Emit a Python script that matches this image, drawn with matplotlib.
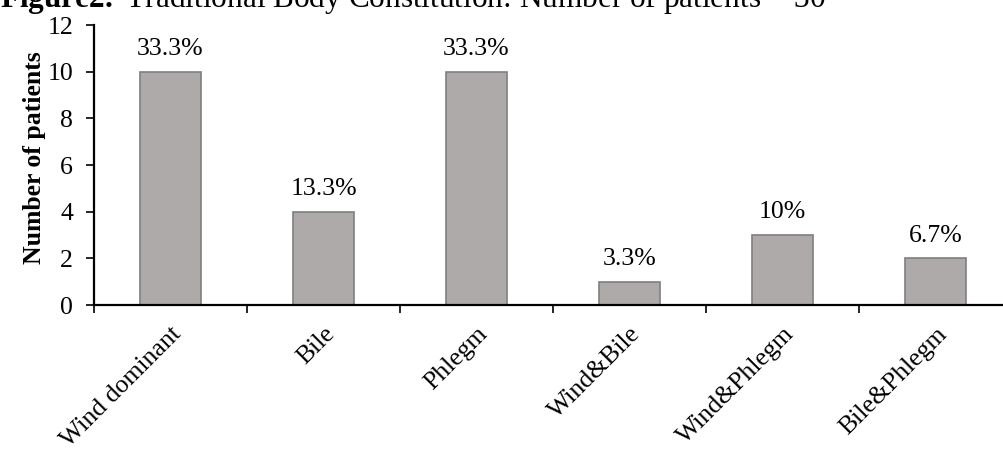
"""Bar chart of traditional body constitution counts (Figure 2)."""
import matplotlib
matplotlib.use("Agg")
import matplotlib.pyplot as plt
import numpy as np

categories = ["Wind dominant", "Bile", "Phlegm", "Wind&Bile", "Wind&Phlegm", "Bile&Phlegm"]
patients = [10, 4, 10, 1, 3, 2]
percent_labels = ["33.3%", "13.3%", "33.3%", "3.3%", "10%", "6.7%"]
yticks = [0, 2, 4, 6, 8, 10, 12]

plt.rcParams["font.family"] = ["Liberation Serif", "DejaVu Serif"]
plt.rcParams["mathtext.fontset"] = "custom"
plt.rcParams["mathtext.rm"] = "Liberation Serif"
plt.rcParams["mathtext.bf"] = "Liberation Serif:bold"

FS = 18.5
W, H = 1004, 449
fig = plt.figure(figsize=(W / 100, H / 100), dpi=100)
# axes extends past the right edge, as in the cropped original
left, right, bottom, top = 94, 1012, 305, 25
ax = fig.add_axes([left / W, 1 - bottom / H, (right - left) / W, (bottom - top) / H])

x = np.arange(len(categories))
ax.bar(x, patients, width=0.4, color="#AEAAAA", edgecolor="#7F7F7F", linewidth=1.2, zorder=2)
for xi, v, lab in zip(x, patients, percent_labels):
    ax.annotate(lab, (xi, v), xytext=(0, 12), textcoords="offset points",
                ha="center", va="baseline", fontsize=FS)

ax.set_xlim(-0.5, len(categories) - 0.5)
ax.set_ylim(0, 12)
ax.set_yticks(yticks)
ax.tick_params(axis="y", labelsize=FS, length=6, width=1.2, direction="out", pad=9)

# ticks at category boundaries, labels at centres
ax.set_xticks(np.arange(len(categories) + 1) - 0.5)
ax.set_xticklabels([])
ax.tick_params(axis="x", length=5.5, width=1.2, direction="out")
ax.set_xticks(x, minor=True)
ax.set_xticklabels(categories, minor=True, rotation=45, ha="right",
                   rotation_mode="anchor", fontsize=FS)
ax.tick_params(axis="x", which="minor", length=0, pad=13)

for s in ["top", "right"]:
    ax.spines[s].set_visible(False)
ax.spines["left"].set_linewidth(1.6)
ax.spines["bottom"].set_linewidth(1.6)

ax.set_ylabel("Number of patients", fontsize=FS, fontweight="bold")
ax.yaxis.set_label_coords(-0.052, 0.525)

fig.text(0, 1 - 7 / H, r"$\bf{Figure2.}$ Traditional Body Constitution: Number of patients = 30",
         fontsize=22.5, ha="left", va="baseline")

fig.savefig("out.png", dpi=100)
